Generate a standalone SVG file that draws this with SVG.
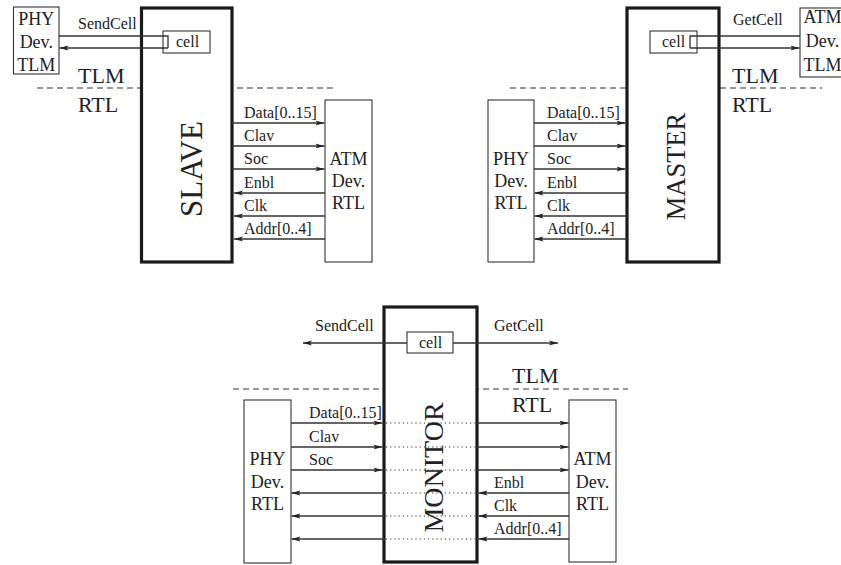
<svg xmlns="http://www.w3.org/2000/svg" width="841" height="565" viewBox="0 0 841 565">
<style>
text{font-family:"Liberation Serif","Times New Roman",serif;fill:#222}
.dev{fill:#fff;stroke:#333;stroke-width:1.1}
.mod{fill:#fff;stroke:#1a1a1a;stroke-width:3.2}
.cellbox{fill:#fff;stroke:#333;stroke-width:1.1}
.sig{fill:none;stroke:#333;stroke-width:1.3}
.dash{fill:none;stroke:#333;stroke-width:1.2;stroke-dasharray:6 4}
.dot{fill:none;stroke:#333;stroke-width:1.2;stroke-dasharray:1.2 3}
.lbl{font-size:16px}
.devt{font-size:18px;text-anchor:middle}
.lvl{font-size:22px}
.big{text-anchor:middle}
.arr{stroke:none;fill:#222}
</style>
<defs>
<marker id="ah" viewBox="0 0 10 6" refX="10" refY="3" markerWidth="9" markerHeight="5.5" markerUnits="userSpaceOnUse" orient="auto">
<path class="arr" d="M0,0.3 L10,3 L0,5.7 L2.2,3 Z"/>
</marker>
</defs>

<!-- level separators -->
<g id="levels">
<path class="dash" d="M37,88 H335"/>
<path class="dash" d="M510,88 H822"/>
<path class="dash" d="M233,389 H628"/>
<text class="lvl" x="78" y="83">TLM</text>
<text class="lvl" x="78" y="112">RTL</text>
<text class="lvl" x="732" y="83">TLM</text>
<text class="lvl" x="732" y="112">RTL</text>
<text class="lvl" x="512" y="383">TLM</text>
<text class="lvl" x="512" y="412">RTL</text>
</g>

<!-- ===== Top-left: SLAVE ===== -->
<g id="slave">
<rect class="mod" x="141.5" y="8" width="90.5" height="254"/>
<text class="big" font-size="31" transform="translate(202,169) rotate(-90)">SLAVE</text>
</g>
<g id="slave-cell">
<rect class="cellbox" x="163" y="31" width="47" height="22"/>
<text class="lbl" x="176" y="47">cell</text>
</g>
<g id="phy-tlm">
<rect class="dev" x="13.5" y="7" width="45.5" height="67"/>
<text class="devt" x="36.3" y="25">PHY</text>
<text class="devt" x="36.3" y="48">Dev.</text>
<text class="devt" x="36.3" y="71">TLM</text>
</g>
<g id="atm-rtl-1">
<rect class="dev" x="325" y="100" width="47" height="162"/>
<text class="devt" x="348.5" y="165">ATM</text>
<text class="devt" x="348.5" y="187">Dev.</text>
<text class="devt" x="348.5" y="209">RTL</text>
</g>

<!-- ===== Top-right: MASTER ===== -->
<g id="master">
<rect class="mod" x="627" y="8" width="92" height="254"/>
<text class="big" font-size="26.5" transform="translate(685,166.5) rotate(-90)">MASTER</text>
</g>
<g id="master-cell">
<rect class="cellbox" x="650" y="31" width="47" height="22"/>
<text class="lbl" x="662" y="47">cell</text>
</g>
<g id="atm-tlm">
<rect class="dev" x="800" y="8" width="50" height="69"/>
<text class="devt" x="822.5" y="23">ATM</text>
<text class="devt" x="822.5" y="47">Dev.</text>
<text class="devt" x="822.5" y="71">TLM</text>
</g>
<g id="phy-rtl-1">
<rect class="dev" x="488" y="100" width="46" height="162"/>
<text class="devt" x="511" y="165">PHY</text>
<text class="devt" x="511" y="187">Dev.</text>
<text class="devt" x="511" y="209">RTL</text>
</g>

<!-- ===== Bottom: MONITOR ===== -->
<g id="monitor">
<rect class="mod" x="384" y="307" width="93" height="255"/>
<text class="big" font-size="28" transform="translate(443,467.5) rotate(-90)">MONITOR</text>
</g>
<g id="monitor-cell">
<rect class="cellbox" x="407" y="332" width="46" height="21"/>
<text class="lbl" x="419" y="348">cell</text>
</g>
<g id="phy-rtl-2">
<rect class="dev" x="244" y="400" width="47" height="163"/>
<text class="devt" x="267.5" y="465">PHY</text>
<text class="devt" x="267.5" y="488">Dev.</text>
<text class="devt" x="267.5" y="510">RTL</text>
</g>
<g id="atm-rtl-2">
<rect class="dev" x="569" y="400" width="47" height="162"/>
<text class="devt" x="592.5" y="465">ATM</text>
<text class="devt" x="592.5" y="488">Dev.</text>
<text class="devt" x="592.5" y="510">RTL</text>
</g>

<!-- ===== Connectors ===== -->
<g id="connectors">
<!-- top-left TLM -->
<path class="sig" d="M59,36 H168 V48"/>
<path class="sig" d="M168,48 H59.5" marker-end="url(#ah)"/>
<text class="lbl" x="78" y="29">SendCell</text>
<!-- top-right TLM -->
<path class="sig" d="M800,36 H690 V48"/>
<path class="sig" d="M690,48 H799.5" marker-end="url(#ah)"/>
<text class="lbl" x="733" y="25">GetCell</text>
<!-- bottom TLM -->
<path class="sig" d="M407,343 H303" marker-end="url(#ah)"/>
<path class="sig" d="M453,343 H558" marker-end="url(#ah)"/>
<text class="lbl" x="315" y="331">SendCell</text>
<text class="lbl" x="494" y="331">GetCell</text>

<!-- SLAVE <-> ATM RTL -->
<path class="sig" d="M232,123 H324.5" marker-end="url(#ah)"/>
<path class="sig" d="M232,146 H324.5" marker-end="url(#ah)"/>
<path class="sig" d="M232,169 H324.5" marker-end="url(#ah)"/>
<path class="sig" d="M325,193 H234" marker-end="url(#ah)"/>
<path class="sig" d="M325,216 H234" marker-end="url(#ah)"/>
<path class="sig" d="M325,239 H234" marker-end="url(#ah)"/>
<text class="lbl" x="244" y="118">Data[0..15]</text>
<text class="lbl" x="244" y="141">Clav</text>
<text class="lbl" x="244" y="164">Soc</text>
<text class="lbl" x="244" y="188">Enbl</text>
<text class="lbl" x="244" y="211">Clk</text>
<text class="lbl" x="244" y="234">Addr[0..4]</text>

<!-- PHY RTL <-> MASTER -->
<path class="sig" d="M534,123 H625.5" marker-end="url(#ah)"/>
<path class="sig" d="M534,146 H625.5" marker-end="url(#ah)"/>
<path class="sig" d="M534,169 H625.5" marker-end="url(#ah)"/>
<path class="sig" d="M627,193 H534.5" marker-end="url(#ah)"/>
<path class="sig" d="M627,216 H534.5" marker-end="url(#ah)"/>
<path class="sig" d="M627,239 H534.5" marker-end="url(#ah)"/>
<text class="lbl" x="547" y="118">Data[0..15]</text>
<text class="lbl" x="547" y="141">Clav</text>
<text class="lbl" x="547" y="164">Soc</text>
<text class="lbl" x="547" y="188">Enbl</text>
<text class="lbl" x="547" y="211">Clk</text>
<text class="lbl" x="547" y="234">Addr[0..4]</text>

<!-- PHY RTL <-> MONITOR -->
<path class="sig" d="M291,423 H382.5" marker-end="url(#ah)"/>
<path class="sig" d="M291,447 H382.5" marker-end="url(#ah)"/>
<path class="sig" d="M291,470 H382.5" marker-end="url(#ah)"/>
<path class="sig" d="M384,493 H291.5" marker-end="url(#ah)"/>
<path class="sig" d="M384,516 H291.5" marker-end="url(#ah)"/>
<path class="sig" d="M384,539 H291.5" marker-end="url(#ah)"/>
<text class="lbl" x="309" y="418">Data[0..15]</text>
<text class="lbl" x="309" y="442">Clav</text>
<text class="lbl" x="309" y="465">Soc</text>

<!-- dotted pass-through in MONITOR -->
<path class="dot" d="M386,423 H475 M386,447 H475 M386,470 H475 M386,493 H475 M386,516 H475 M386,539 H475"/>

<!-- MONITOR <-> ATM RTL -->
<path class="sig" d="M477,423 H568.5" marker-end="url(#ah)"/>
<path class="sig" d="M477,447 H568.5" marker-end="url(#ah)"/>
<path class="sig" d="M477,470 H568.5" marker-end="url(#ah)"/>
<path class="sig" d="M569,493 H478.5" marker-end="url(#ah)"/>
<path class="sig" d="M569,516 H478.5" marker-end="url(#ah)"/>
<path class="sig" d="M569,539 H478.5" marker-end="url(#ah)"/>
<text class="lbl" x="494" y="488">Enbl</text>
<text class="lbl" x="494" y="511">Clk</text>
<text class="lbl" x="494" y="534">Addr[0..4]</text>
</g>
</svg>
